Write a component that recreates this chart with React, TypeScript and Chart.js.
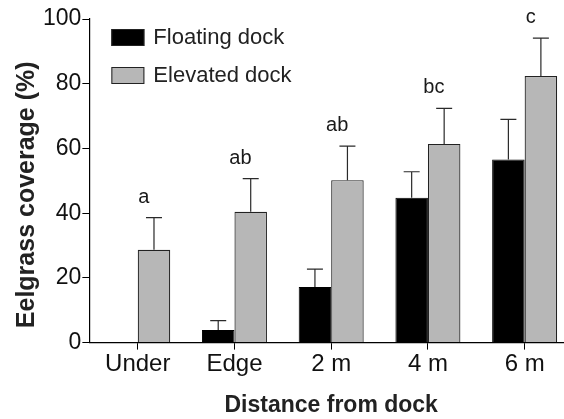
import React, { useEffect, useRef } from "react";
import { Chart, registerables } from "chart.js";

Chart.register(...registerables);

const categories = ["Under", "Edge", "2 m", "4 m", "6 m"];
const floatingValues = [0, 3.9, 17.2, 44.8, 56.6];
const floatingErrors = [0, 2.9, 5.5, 8.0, 12.4];
const elevatedValues = [28.7, 40.4, 50.2, 61.4, 82.4];
const elevatedErrors = [9.9, 10.3, 10.5, 11.0, 11.7];
const groupLetters = ["a", "ab", "ab", "bc", "c"];
const yTicks = [0, 20, 40, 60, 80, 100];
const yTitle = "Eelgrass coverage (%)";
const xTitle = "Distance from dock";

const FONT = "'Liberation Sans', Arial, Helvetica, sans-serif";

const errorBarPlugin = {
  id: "errorBars",
  afterDatasetsDraw(chart: any) {
    const ctx = chart.ctx;
    const yScale = chart.scales.y;
    const xScale = chart.scales.x;
    const errs = [floatingErrors, elevatedErrors];
    ctx.save();
    ctx.strokeStyle = "#2a2a2a";
    ctx.lineWidth = 1.2;
    chart.data.datasets.forEach((ds: any, di: number) => {
      const meta = chart.getDatasetMeta(di);
      meta.data.forEach((bar: any, i: number) => {
        const e = errs[di][i];
        if (!e) return;
        const v = ds.data[i];
        const top = yScale.getPixelForValue(v + e);
        const base = yScale.getPixelForValue(v);
        ctx.beginPath();
        ctx.moveTo(bar.x, base);
        ctx.lineTo(bar.x, top);
        ctx.moveTo(bar.x - 8, top);
        ctx.lineTo(bar.x + 8, top);
        ctx.stroke();
      });
    });
    // significance letters
    ctx.fillStyle = "#1a1a1a";
    ctx.font = `20px ${FONT}`;
    ctx.textAlign = "center";
    ctx.textBaseline = "alphabetic";
    groupLetters.forEach((l, i) => {
      const top = Math.min(
        yScale.getPixelForValue(floatingValues[i] + floatingErrors[i]),
        yScale.getPixelForValue(elevatedValues[i] + elevatedErrors[i])
      );
      const x = xScale.getPixelForValue(i) + 6;
      ctx.fillText(l, x, top - 15);
    });
    // legend
    const ca = chart.chartArea;
    const lx = ca.left + 22;
    const ly = ca.top + 10;
    ctx.font = `22px ${FONT}`;
    ctx.textAlign = "left";
    ctx.textBaseline = "middle";
    chart.data.datasets.forEach((ds: any, di: number) => {
      const y = ly + di * 38;
      ctx.fillStyle = ds.backgroundColor;
      ctx.fillRect(lx, y, 33, 17);
      ctx.strokeStyle = "#222";
      ctx.lineWidth = 1;
      ctx.strokeRect(lx + 0.5, y + 0.5, 32, 16);
      ctx.fillStyle = "#222";
      ctx.fillText(ds.label, lx + 42, y + 9);
    });
    // y axis title
    ctx.save();
    ctx.translate(27, (ca.top + ca.bottom) / 2 + 14);
    ctx.rotate(-Math.PI / 2);
    ctx.font = `bold 25px ${FONT}`;
    ctx.textAlign = "center";
    ctx.textBaseline = "middle";
    ctx.fillStyle = "#222";
    ctx.fillText(yTitle, 0, 0);
    ctx.restore();
    ctx.restore();
  },
};

export default function App() {
  const ref = useRef<HTMLCanvasElement>(null);
  useEffect(() => {
    document.body.style.margin = "0";
    const chart = new Chart(ref.current as HTMLCanvasElement, {
      type: "bar",
      data: {
        labels: categories,
        datasets: [
          {
            label: "Floating dock",
            data: floatingValues,
            backgroundColor: "#000000",
            borderColor: "#000000",
            borderWidth: 1,
            categoryPercentage: 0.672,
            barPercentage: 1.0,
          },
          {
            label: "Elevated dock",
            data: elevatedValues,
            backgroundColor: "#b7b7b7",
            borderColor: "#222222",
            borderWidth: 1.2,
            categoryPercentage: 0.672,
            barPercentage: 1.0,
          },
        ],
      },
      options: {
        animation: false,
        responsive: false,
        maintainAspectRatio: false,
        layout: { padding: { top: 19, right: 3, bottom: 0, left: 42 } },
        plugins: {
          legend: { display: false },
          tooltip: { enabled: false },
        },
        scales: {
          x: {
            type: "category",
            offset: true,
            grid: {
              offset: false,
              drawOnChartArea: false,
              drawTicks: true,
              tickLength: 7,
              color: "#000",
              lineWidth: 1,
            },
            border: { display: true, color: "#000", width: 1.2 },
            ticks: {
              color: "#111",
              font: { family: FONT, size: 24 },
              padding: 0,
              maxRotation: 0,
            },
            title: {
              display: true,
              text: xTitle,
              color: "#222",
              font: { family: FONT, size: 23, weight: "bold" },
              padding: { top: 13, bottom: 0 },
            },
          },
          y: {
            min: 0,
            max: 100,
            afterBuildTicks(axis: any) {
              axis.ticks = yTicks.map((v) => ({ value: v }));
            },
            grid: {
              drawOnChartArea: false,
              drawTicks: true,
              tickLength: 7,
              color: "#000",
              lineWidth: 1,
            },
            border: { display: true, color: "#000", width: 1.2 },
            ticks: {
              color: "#111",
              font: { family: FONT, size: 23 },
              padding: 1,
            },
          },
        },
      },
      plugins: [errorBarPlugin],
    });
    return () => chart.destroy();
  }, []);
  return (
    <div style={{ width: 564, height: 419, overflow: "hidden", position: "relative", background: "#fff" }}>
      <canvas ref={ref} width={576} height={419} style={{ display: "block", width: 576, height: 419 }} />
    </div>
  );
}
